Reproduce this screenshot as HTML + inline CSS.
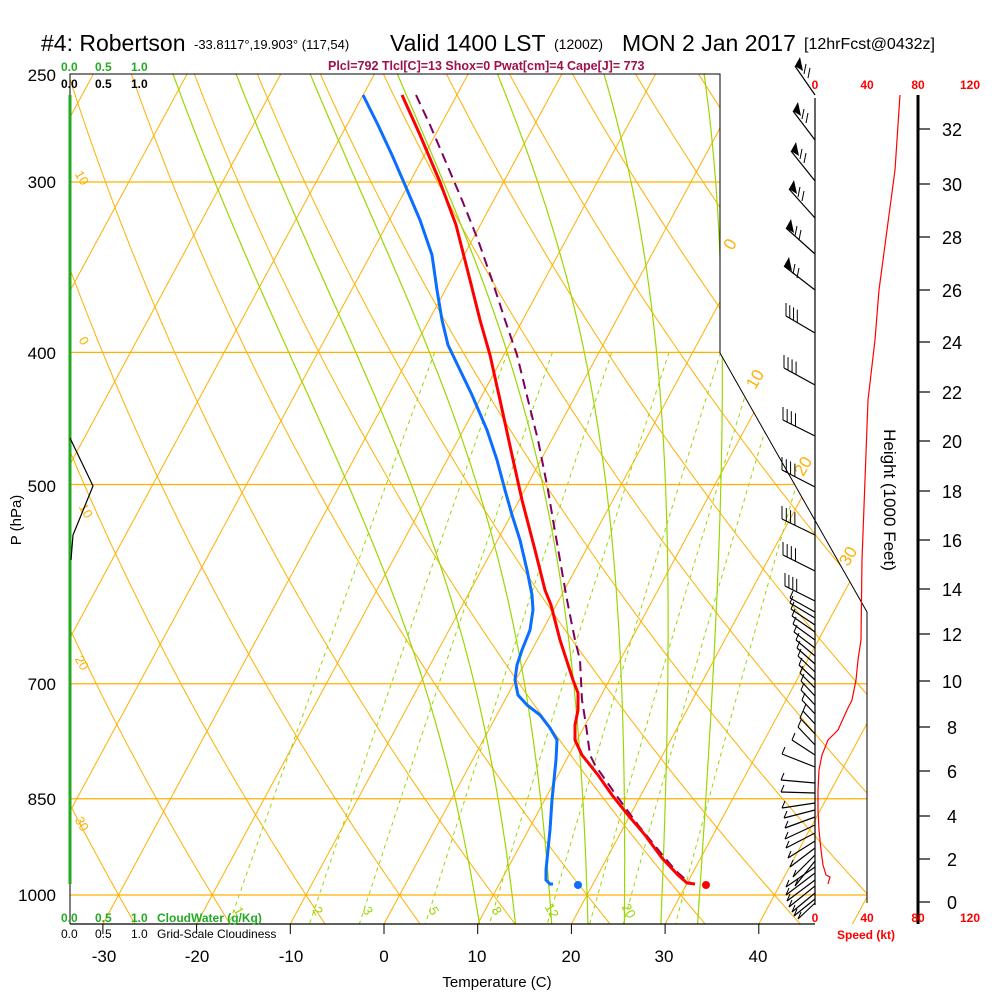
<!DOCTYPE html>
<html><head><meta charset="utf-8"><style>
body{margin:0;background:#fff;}
svg{display:block;font-family:"Liberation Sans",sans-serif;}
</style></head><body>
<svg id="s" width="1000" height="1000" viewBox="0 0 1000 1000" xmlns="http://www.w3.org/2000/svg">
<defs><clipPath id="cp"><polygon points="70,74 720,74 720,353 867,612 867,924 70,924"/></clipPath></defs>
<g id="grid" clip-path="url(#cp)"></g>
<g id="fg"></g>
<text x="41" y="51" font-size="23" fill="#000">#4: Robertson</text>
<text x="194" y="49" font-size="13" fill="#000">-33.8117°,19.903° (117,54)</text>
<text x="390" y="51" font-size="23" fill="#000">Valid 1400 LST</text>
<text x="554" y="49" font-size="14" fill="#000">(1200Z)</text>
<text x="622" y="51" font-size="23" fill="#000">MON 2 Jan 2017</text>
<text x="804" y="49" font-size="16" fill="#000">[12hrFcst@0432z]</text>
<text x="328" y="70" font-size="12.5" font-weight="bold" fill="#a0104a">Plcl=792 Tlcl[C]=13 Shox=0 Pwat[cm]=4 Cape[J]= 773</text>
<g font-size="12" font-weight="bold">
<text x="61" y="71" fill="#22aa22">0.0</text><text x="95" y="71" fill="#22aa22">0.5</text><text x="131" y="71" fill="#22aa22">1.0</text>
<text x="61" y="88" fill="#000">0.0</text><text x="95" y="88" fill="#000">0.5</text><text x="131" y="88" fill="#000">1.0</text>
<text x="61" y="922" fill="#22aa22">0.0</text><text x="95" y="922" fill="#22aa22">0.5</text><text x="131" y="922" fill="#22aa22">1.0</text><text x="157" y="922" fill="#22aa22">CloudWater (g/Kg)</text>
<text x="61" y="938" fill="#000" font-weight="normal">0.0</text><text x="95" y="938" fill="#000" font-weight="normal">0.5</text><text x="131" y="938" fill="#000" font-weight="normal">1.0</text><text x="157" y="938" fill="#000" font-weight="normal">Grid-Scale Cloudiness</text>
</g>
<g font-size="17" text-anchor="end" fill="#000">
<text x="56" y="81">250</text><text x="56" y="188">300</text><text x="56" y="359">400</text><text x="56" y="492">500</text><text x="56" y="690">700</text><text x="56" y="805">850</text><text x="56" y="901">1000</text>
</g>
<text transform="translate(21,520) rotate(-90)" font-size="15" text-anchor="middle">P (hPa)</text>
<g font-size="17" text-anchor="middle">
<text x="104" y="962">-30</text><text x="197" y="962">-20</text><text x="291" y="962">-10</text><text x="384" y="962">0</text><text x="477" y="962">10</text><text x="571" y="962">20</text><text x="664" y="962">30</text><text x="758" y="962">40</text>
</g>
<text x="497" y="987" font-size="15" text-anchor="middle">Temperature (C)</text>
<g font-size="12" fill="#ff0000" text-anchor="middle" font-weight="bold">
<text x="815" y="89">0</text><text x="867" y="89">40</text><text x="918" y="89">80</text><text x="970" y="89">120</text>
<text x="815" y="922">0</text><text x="867" y="922">40</text><text x="918" y="922">80</text><text x="970" y="922">120</text>
</g>
<text x="837" y="939" font-size="12" fill="#ff0000" font-weight="bold">Speed (kt)</text>
<text transform="translate(884,500) rotate(90)" font-size="17" text-anchor="middle">Height (1000 Feet)</text>
<script>
(function(){
var NS="http://www.w3.org/2000/svg";
var grid=document.getElementById('grid'),fg=document.getElementById('fg');
function el(p,tag,a){var e=document.createElementNS(NS,tag);for(var k in a)e.setAttribute(k,a[k]);p.appendChild(e);return e;}
function Y(p){return 895+592.2*Math.log(p/1000);}
function X(T,p){return 384+9.37*T+0.54*(924-Y(p));}
var OR="#ffb000",GR="#99d700";
function poly(par,pts,a){var d=pts.map(function(q,i){return (i?'L':'M')+q[0].toFixed(1)+','+q[1].toFixed(1);}).join('');a.d=d;a.fill='none';return el(par,'path',a);}
var ps=[];for(var p=240;p<=1060;p+=5)ps.push(p);
for(var T=-130;T<=60;T+=10){poly(grid,[[X(T,1060),Y(1060)],[X(T,240),Y(240)]],{stroke:OR,'stroke-width':1});}
for(var th=-60;th<=200;th+=10){var pts=ps.map(function(p){var t=(th+273.15)*Math.pow(p/1000,0.286)-273.15;return [X(t,p),Y(p)];});poly(grid,pts,{stroke:OR,'stroke-width':1});}
function es(t){return 6.112*Math.exp(17.67*t/(t+243.5));}
function rs(t,p){var e=es(t);return 0.622*e/(p-e);}
function dT(t,p){var TK=t+273.15,r=rs(t,p);return (287*TK+2.5e6*r)/(1005+2.5e6*2.5e6*r*0.622/(287*TK*TK))/p;}
for(var tw=8;tw<=32;tw+=4){var pts=[];var t=tw;for(var p=1000;p>=240;p-=2){pts.push([X(t,p),Y(p)]);t-=dT(t,p)*2;}
var pts2=[];t=tw;for(var p=1000;p<=1060;p+=2){pts2.push([X(t,p),Y(p)]);t+=dT(t,p)*2;}
poly(grid,pts2.reverse().concat(pts),{stroke:GR,'stroke-width':1.2});}
[1,2,3,5,8,12,16,20,28].forEach(function(w){var pts=[];for(var p=400;p<=1060;p+=5){var e=w*p/(622+w);var l=Math.log(e/6.112);var t=243.5*l/(17.67-l);pts.push([X(t,p),Y(p)]);}
poly(grid,pts,{stroke:GR,'stroke-width':1,'stroke-dasharray':'4,4'});});
[300,400,500,700,850,1000].forEach(function(p){el(grid,'line',{x1:70,x2:870,y1:Y(p),y2:Y(p),stroke:OR,'stroke-width':1.2});});
function lab(x,y,t,r,c,s){var e=el(fg,'text',{x:0,y:0,transform:'translate('+x+','+y+') rotate('+r+')','font-size':s||15,fill:c,'text-anchor':'middle'});e.textContent=t;}
lab(735,247,'0',-60,OR,17);lab(760,382,'10',-60,OR,17);lab(808,469,'20',-60,OR,17);lab(853,559,'30',-60,OR,17);
lab(78,180,'10',60,OR,13);lab(80,343,'0',60,OR,13);lab(82,513,'10',60,OR,13);lab(78,665,'20',60,OR,13);lab(78,826,'30',60,OR,13);
[['1',235],['2',314],['3',364],['5',430],['8',493],['12',548],['20',625]].forEach(function(a){lab(a[1],913,a[0],60,GR,13);});
el(fg,'polyline',{points:'70,924 70,74 720,74 720,353 867,612 867,903',fill:'none',stroke:'#000','stroke-width':1});
el(fg,'line',{x1:70,x2:815,y1:924,y2:924,stroke:'#000','stroke-width':1.2});
for(var T=-30;T<=40;T+=10){el(fg,'line',{x1:384+9.37*T,x2:384+9.37*T,y1:924,y2:934,stroke:'#000'});}
el(fg,'line',{x1:70,x2:70,y1:95,y2:884,stroke:'#22aa22','stroke-width':3});
el(fg,'polyline',{points:'70,438 93,486 73,535 71,560',fill:'none',stroke:'#000','stroke-width':1.2});
el(fg,'line',{x1:815,x2:815,y1:98,y2:905,stroke:'#000','stroke-width':1.2});
el(fg,'line',{x1:918,x2:918,y1:95,y2:924,stroke:'#000','stroke-width':3});
var hy=[[32,129],[30,184],[28,237],[26,290],[24,342],[22,392],[20,441],[18,491],[16,540],[14,589],[12,634],[10,681],[8,727],[6,771],[4,816],[2,859],[0,902]];
hy.forEach(function(h){el(fg,'line',{x1:918,x2:930,y1:h[1],y2:h[1],stroke:'#000','stroke-width':1.2});var t=el(fg,'text',{x:952,y:h[1]+7,'font-size':18,'text-anchor':'middle'});t.textContent=h[0];});
poly(fg,[[900,95],[895,170],[887,230],[879,290],[875,340],[868,400],[865,480],[862,560],[861,640],[858,660],[856,680],[852,700],[847,710],[838,730],[828,740],[822,755],[819,770],[818,790],[818,810],[819,830],[821,850],[823,865],[826,875],[830,877],[828,884]],{stroke:'#ff0000','stroke-width':1.2});
function barb(y,ex,ey,type){el(fg,'line',{x1:815,y1:y,x2:ex,y2:ey,stroke:'#000','stroke-width':1.2});
 if(type=='f'){el(fg,'polygon',{points:ex+','+ey+' '+(ex+5)+','+(ey-9)+' '+(ex+8)+','+(ey+5),fill:'#000'});for(var i=0;i<2;i++){var bx=ex+9+i*4,by=ey+8+i*4;el(fg,'line',{x1:bx,y1:by,x2:bx+2,y2:by-10,stroke:'#000'});}}
 else if(type=='b'){for(var i=0;i<4;i++){var f=i*0.13,bx=ex+(815-ex)*f,by=ey+(y-ey)*f;el(fg,'line',{x1:bx,y1:by,x2:bx,y2:by-13,stroke:'#000'});}}
 else if(type=='s'){el(fg,'line',{x1:ex,y1:ey,x2:ex+3,y2:ey-7,stroke:'#000'});}}
[[95,795,66],[140,793,111],[181,791,151],[218,789,189],[254,786,228],[290,784,266]].forEach(function(b){barb(b[0],b[1],b[2],'f');});
[[333,786,316],[385,784,368],[436,783,420],[487,782,470],[535,782,519],[571,783,555],[601,785,586]].forEach(function(b){barb(b[0],b[1],b[2],'b');});
var low=[[612,790,598],[618,790,603],[625,791,609],[632,792,616],[640,793,624],[648,794,632],[656,796,640],[664,797,648],[672,798,656],[680,799,665],[688,800,673],[696,801,681],[705,801,690],[714,802,700],[724,803,711],[734,800,718],[745,798,727],[755,792,740],[767,782,754],[783,781,780],[793,781,792],[803,782,808],[810,784,818],[817,785,828],[825,785,839],[833,786,848],[841,788,858],[848,790,867],[855,793,877],[861,795,886],[867,786,887],[873,786,895],[880,787,901],[886,789,907],[893,792,912],[899,794,916],[903,798,919]];
low.forEach(function(b){barb(b[0],b[1],b[2],'s');});
poly(fg,[[363,95],[378,125],[392,155],[405,185],[420,220],[432,255],[437,290],[442,320],[448,345],[460,370],[472,395],[487,430],[497,460],[505,490],[512,515],[520,540],[527,570],[532,595],[533,610],[530,630],[522,650],[517,665],[515,680],[518,695],[527,705],[540,715],[550,728],[557,740],[556,760],[554,780],[552,800],[550,830],[548,850],[546,870],[546,880],[550,884],[553,884]],{stroke:'#0a6eff','stroke-width':3});
poly(fg,[[416,95],[430,125],[445,160],[462,200],[478,240],[492,280],[505,320],[517,355],[528,400],[538,440],[548,490],[553,520],[560,560],[567,600],[575,640],[580,660],[582,700],[586,725],[590,755],[595,765],[616,795],[638,825],[660,852],[675,870],[686,880],[692,884]],{stroke:'#800060','stroke-width':2,'stroke-dasharray':'10,6'});
poly(fg,[[402,95],[420,135],[440,182],[456,225],[470,280],[480,320],[490,355],[500,400],[512,455],[522,500],[535,550],[545,590],[551,605],[560,640],[573,680],[578,693],[578,710],[575,725],[575,740],[582,755],[598,775],[612,795],[628,815],[645,835],[662,858],[678,875],[687,883],[695,884]],{stroke:'#ff0000','stroke-width':3});
el(fg,'circle',{cx:578,cy:885,r:4,fill:'#0a6eff'});
el(fg,'circle',{cx:706,cy:885,r:4,fill:'#ff0000'});
})();
</script>
</svg>
</body></html>
